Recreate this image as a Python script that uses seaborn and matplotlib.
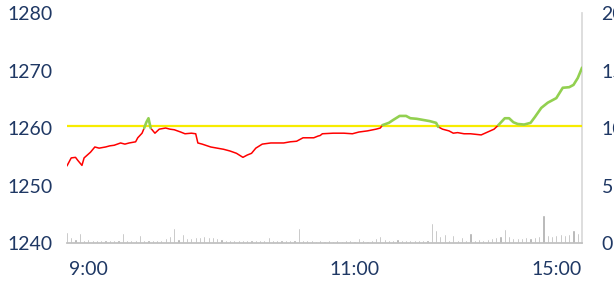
import numpy as np
import pandas as pd
import seaborn as sns
import matplotlib.pyplot as plt

# ------------------------------------------------------------------------------
# Data
# ------------------------------------------------------------------------------
minutes = [0, 2, 4, 5, 7, 8, 11, 13, 15, 18, 20, 22, 25, 27, 29, 32, 33, 35, 36,
           37, 38, 39, 41, 43, 46, 48, 50, 53, 55, 58, 60, 61, 63, 67, 70, 73, 76,
           79, 82, 84, 86, 88, 91, 95, 98, 101, 104, 107, 110, 112, 115, 117, 118,
           119, 124, 129, 133, 136, 140, 144, 146, 147, 150, 152, 155, 158, 160,
           163, 166, 169, 172, 173, 175, 178, 180, 182, 185, 188, 193, 196, 199,
           201, 204, 206, 208, 210, 213, 216, 218, 221, 224, 228, 231, 234, 236,
           238, 240]
price = [1253.4, 1254.8, 1254.9, 1254.4, 1253.5, 1254.8, 1255.8, 1256.7, 1256.5,
         1256.7, 1256.9, 1257.0, 1257.4, 1257.2, 1257.4, 1257.6, 1258.3, 1259.1,
         1260.0, 1261.0, 1261.7, 1260.0, 1259.1, 1259.8, 1260.0, 1259.8, 1259.7,
         1259.3, 1259.0, 1259.1, 1259.0, 1257.4, 1257.2, 1256.7, 1256.5, 1256.3,
         1256.0, 1255.6, 1254.9, 1255.3, 1255.6, 1256.5, 1257.2, 1257.4, 1257.4,
         1257.4, 1257.6, 1257.7, 1258.3, 1258.3, 1258.3, 1258.6, 1258.7, 1259.0,
         1259.1, 1259.1, 1259.0, 1259.3, 1259.5, 1259.8, 1260.0, 1260.5, 1260.9,
         1261.4, 1262.1, 1262.1, 1261.7, 1261.6, 1261.4, 1261.2, 1260.9, 1260.2,
         1259.8, 1259.5, 1259.1, 1259.2, 1259.0, 1259.0, 1258.8, 1259.3, 1259.8,
         1260.5, 1261.7, 1261.7, 1261.0, 1260.7, 1260.6, 1260.9, 1261.9, 1263.5,
         1264.4, 1265.2, 1267.0, 1267.1, 1267.5, 1268.7, 1270.5]
ref_price = 1260.3

vol_minutes = list(range(0, 241, 2))
volume = [1.0, 0.5, 0.35, 0.9, 0.3, 0.35, 0.25, 0.3, 0.25, 0.3,
          0.25, 0.3, 0.28, 0.9, 0.3, 0.25, 0.3, 0.7, 0.3, 0.25,
          0.3, 0.28, 0.3, 0.45, 0.6, 1.3, 0.35, 0.8, 0.4, 0.45,
          0.5, 0.55, 0.6, 0.5, 0.55, 0.45, 0.35, 0.3, 0.28, 0.3,
          0.25, 0.3, 0.28, 0.25, 0.3, 0.28, 0.3, 0.5, 0.25, 0.3,
          0.28, 0.25, 0.3, 0.25, 1.3, 0.25, 0.22, 0.25, 0.2, 0.22,
          0.2, 0.25, 0.2, 0.22, 0.2, 0.25, 0.22, 0.2, 0.4, 0.22,
          0.2, 0.25, 0.45, 0.6, 0.35, 0.25, 0.3, 0.35, 0.3, 0.25,
          0.3, 0.25, 0.22, 0.25, 0.3, 1.7, 1.1, 0.6, 0.8, 0.3,
          0.7, 0.3, 0.5, 0.3, 0.9, 0.3, 0.35, 0.3, 0.35, 0.4,
          0.55, 0.6, 1.2, 0.6, 0.45, 0.4, 0.45, 0.5, 0.45, 0.55,
          0.6, 2.4, 0.7, 0.65, 0.7, 0.75, 0.7, 0.8, 1.1, 0.9,
          0.6]

tick_pos = [10, 134, 228]
tick_labels = ['9:00', '11:00', '15:00']

# ------------------------------------------------------------------------------
# Split the price line into runs above / below the reference
# ------------------------------------------------------------------------------
rows = []
seg = 0
prev_side = None
for i in range(len(price) - 1):
    side = 'up' if (price[i] + price[i + 1]) / 2 > ref_price else 'down'
    if side != prev_side:
        seg += 1
        rows.append((seg, side, minutes[i], price[i]))
        prev_side = side
    rows.append((seg, side, minutes[i + 1], price[i + 1]))
line_df = pd.DataFrame(rows, columns=['seg', 'side', 'minute', 'price'])
vol_df = pd.DataFrame({'minute': vol_minutes, 'volume': volume})

# ------------------------------------------------------------------------------
# Plot
# ------------------------------------------------------------------------------
sns.set_theme(style="white")
plt.rcParams['font.family'] = ['Lato', 'DejaVu Sans']
navy = '#1F3864'

fig = plt.figure(figsize=(6.14, 2.83), dpi=100)
ax = fig.add_axes([0.109, 0.1413, 0.839, 0.8127])
ax2 = ax.twinx()

# volume on the secondary axis
sns.barplot(data=vol_df, x='minute', y='volume', native_scale=True,
            color='#ABABAB', width=0.5, ax=ax2)
ax2.set_ylim(0, 20)
ax2.set_yticks([0, 5, 10, 15, 20])

# price line
ax.set_zorder(ax2.get_zorder() + 1)
ax.patch.set_visible(False)
ax.axhline(ref_price, color='#F7EC00', lw=1.6, zorder=1)
sns.lineplot(data=line_df[line_df.side == 'down'], x='minute', y='price',
             units='seg', estimator=None, color='#FF0000', lw=1.1, ax=ax, zorder=3)
sns.lineplot(data=line_df[line_df.side == 'up'], x='minute', y='price',
             units='seg', estimator=None, color='#92D050', lw=1.9, ax=ax, zorder=3)
ax.set_ylim(1240, 1280)
ax.set_yticks([1240, 1250, 1260, 1270, 1280])
ax.set_xlim(0, 240)
ax.set_xticks(tick_pos)
ax.set_xticklabels(tick_labels)
ax.set_xlabel('')
ax.set_ylabel('')
ax2.set_xlabel('')
ax2.set_ylabel('')
ax2.set_xlim(0, 240)

for a in (ax, ax2):
    for s in a.spines.values():
        s.set_visible(False)
    a.tick_params(length=0, labelsize=14, labelcolor=navy)
ax2.spines['right'].set_visible(True)
ax2.spines['right'].set_color('#D9D9D9')
ax2.spines['bottom'].set_visible(True)
ax2.spines['bottom'].set_color('#BFBFBF')
ax.tick_params(axis='y', pad=10)
ax.tick_params(axis='x', pad=13)
ax2.tick_params(axis='y', pad=14)

fig.savefig('out.png', dpi=100)
